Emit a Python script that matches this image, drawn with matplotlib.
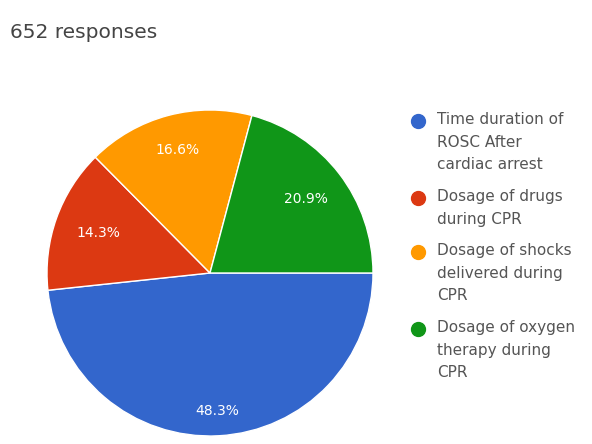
import numpy as np
import matplotlib.pyplot as plt

plt.rcParams['font.family'] = ['DejaVu Sans']

# 652 responses
labels = ['Time duration of\nROSC After\ncardiac arrest',
          'Dosage of drugs\nduring CPR',
          'Dosage of shocks\ndelivered during\nCPR',
          'Dosage of oxygen\ntherapy during\nCPR']
counts = [315, 93, 108, 136]
colors = ['#3366cc', '#dc3912', '#ff9900', '#109618']

W, H = 592, 444
fig = plt.figure(figsize=(W / 100, H / 100), dpi=100)
fig.text(10 / W, 1 - 33 / H, '652 responses', fontsize=14.5, color='#444444', va='center')

ax = fig.add_axes([47 / W, 8 / H, 326 / W, 326 / H])
wedges, texts, autotexts = ax.pie(counts, colors=colors, startangle=0, counterclock=False,
                                  autopct='%1.1f%%', pctdistance=0.76,
                                  wedgeprops=dict(edgecolor='white', linewidth=1),
                                  textprops=dict(color='white', fontsize=10))
ax.set_xlim(-1, 1)
ax.set_ylim(-1, 1)
ax.set_aspect('equal')

# push the labels out a bit, like google forms does
label_r = [0.85, 0.73, 0.78, 0.74]
for w, t, r in zip(wedges, autotexts, label_r):
    ang = np.deg2rad((w.theta1 + w.theta2) / 2)
    t.set_position((r * np.cos(ang), r * np.sin(ang)))

# legend drawn by hand so the dot sits on the first line
lh = 23
y = 121
for lab, c in zip(labels, colors):
    fig.add_artist(plt.Line2D([418 / W], [1 - y / H], marker='o', markersize=10,
                              color=c, linestyle=''))
    fig.text(437 / W, 1 - (y - 9) / H, lab, fontsize=11, color='#555555', va='top',
             linespacing=1.63)
    y += lab.count('\n') * lh + lh + 8

fig.savefig('out.png', dpi=100)
